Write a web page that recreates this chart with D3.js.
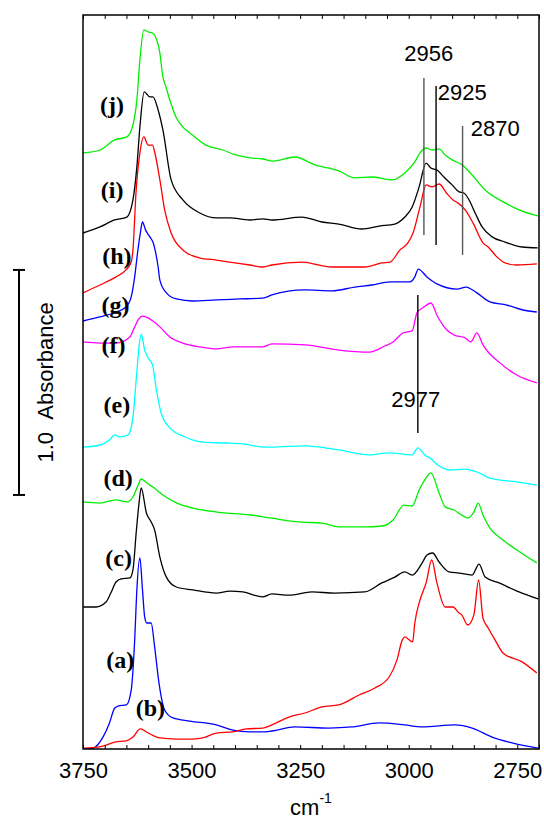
<!DOCTYPE html>
<html>
<head>
<meta charset="utf-8">
<script src="https://cdn.jsdelivr.net/npm/d3@7"></script>
<style>
  body { margin: 0; background: #fff; }
  svg { display: block; }
</style>
</head>
<body>
<svg id="chart" width="544" height="821"></svg>
<script>
// spectra: [wavenumber (cm-1), absorbance as plotted, offsets included]
const specA = [
  [3750, 0.0], [3727, 0.004], [3704, 0.053], [3689, 0.116], [3677, 0.182], [3669, 0.191],
  [3650, 0.196], [3639, 0.262], [3631, 0.484], [3626, 0.707], [3619, 0.849], [3613, 0.707],
  [3608, 0.587], [3603, 0.56], [3593, 0.56], [3585, 0.453], [3575, 0.293], [3562, 0.173],
  [3543, 0.138], [3504, 0.124], [3443, 0.107], [3405, 0.084], [3366, 0.076], [3336, 0.076],
  [3315, 0.08], [3262, 0.098], [3184, 0.093], [3131, 0.098], [3068, 0.116], [3009, 0.107],
  [2969, 0.098], [2893, 0.107], [2854, 0.093], [2808, 0.053], [2762, 0.027], [2702, 0.004]
];
const specB = [
  [3750, 0.004], [3704, 0.013], [3677, 0.031], [3650, 0.036], [3635, 0.053], [3618, 0.089],
  [3600, 0.071], [3573, 0.049], [3535, 0.044], [3497, 0.044], [3474, 0.049], [3443, 0.071],
  [3405, 0.076], [3374, 0.089], [3336, 0.093], [3315, 0.107], [3276, 0.142], [3239, 0.16],
  [3200, 0.187], [3161, 0.196], [3114, 0.24], [3078, 0.271], [3045, 0.32], [3027, 0.396],
  [3015, 0.484], [3009, 0.498], [2991, 0.476], [2986, 0.56], [2974, 0.662], [2960, 0.738],
  [2947, 0.84], [2935, 0.738], [2916, 0.631], [2898, 0.631], [2884, 0.604], [2878, 0.596],
  [2864, 0.551], [2850, 0.596], [2839, 0.751], [2829, 0.582], [2817, 0.538], [2801, 0.484],
  [2783, 0.427], [2739, 0.387], [2705, 0.338]
];
const specC = [
  [3750, 0.631], [3720, 0.631], [3697, 0.653], [3686, 0.693], [3674, 0.742], [3662, 0.756],
  [3642, 0.76], [3635, 0.796], [3627, 0.973], [3621, 1.093], [3616, 1.16], [3604, 1.049],
  [3593, 1.009], [3585, 0.973], [3573, 0.853], [3558, 0.764], [3535, 0.72], [3497, 0.707],
  [3443, 0.693], [3412, 0.702], [3382, 0.698], [3336, 0.676], [3315, 0.689], [3276, 0.684],
  [3223, 0.698], [3170, 0.693], [3101, 0.698], [3062, 0.738], [3032, 0.764], [3009, 0.787],
  [2992, 0.773], [2969, 0.827], [2958, 0.862], [2945, 0.871], [2930, 0.831], [2907, 0.787],
  [2884, 0.782], [2854, 0.773], [2838, 0.822], [2824, 0.764], [2792, 0.738], [2746, 0.698],
  [2702, 0.667]
];
const specD = [
  [3750, 1.098], [3711, 1.093], [3674, 1.107], [3649, 1.098], [3635, 1.12], [3623, 1.173],
  [3616, 1.2], [3603, 1.182], [3589, 1.164], [3566, 1.129], [3534, 1.093], [3497, 1.071],
  [3441, 1.053], [3365, 1.04], [3319, 1.027], [3253, 1.009], [3200, 1.004], [3161, 0.987],
  [3101, 0.987], [3062, 0.991], [3036, 1.018], [3011, 1.084], [2992, 1.08], [2976, 1.151],
  [2963, 1.196], [2949, 1.227], [2930, 1.138], [2916, 1.076], [2896, 1.062], [2875, 1.036],
  [2864, 1.027], [2850, 1.053], [2840, 1.093], [2829, 1.04], [2813, 0.982], [2783, 0.929],
  [2751, 0.884], [2705, 0.827]
];
const specE = [
  [3750, 1.342], [3711, 1.351], [3689, 1.373], [3677, 1.396], [3665, 1.387], [3646, 1.396],
  [3635, 1.476], [3627, 1.653], [3621, 1.787], [3616, 1.844], [3608, 1.773], [3600, 1.738],
  [3590, 1.707], [3581, 1.596], [3570, 1.493], [3550, 1.427], [3520, 1.391], [3474, 1.364],
  [3428, 1.36], [3382, 1.356], [3336, 1.342], [3315, 1.342], [3239, 1.347], [3161, 1.329],
  [3091, 1.307], [3045, 1.316], [2992, 1.307], [2979, 1.338], [2963, 1.307], [2951, 1.293],
  [2933, 1.262], [2905, 1.24], [2870, 1.244], [2843, 1.231], [2813, 1.204], [2751, 1.187],
  [2705, 1.173]
];
const specF = [
  [3750, 1.809], [3711, 1.804], [3674, 1.804], [3642, 1.831], [3631, 1.876], [3623, 1.907],
  [3613, 1.924], [3600, 1.916], [3589, 1.902], [3573, 1.876], [3550, 1.831], [3520, 1.804],
  [3481, 1.787], [3443, 1.778], [3405, 1.787], [3366, 1.787], [3336, 1.787], [3315, 1.8],
  [3239, 1.796], [3161, 1.773], [3091, 1.764], [3055, 1.791], [3036, 1.809], [3013, 1.849],
  [2992, 1.858], [2981, 1.938], [2965, 1.964], [2949, 1.982], [2933, 1.92], [2912, 1.862],
  [2896, 1.84], [2870, 1.827], [2857, 1.809], [2843, 1.849], [2829, 1.796], [2790, 1.716],
  [2751, 1.662], [2705, 1.627]
];
const specG = [
  [3750, 1.902], [3711, 1.92], [3674, 1.942], [3651, 1.964], [3639, 2.009], [3631, 2.098],
  [3624, 2.211], [3618, 2.293], [3613, 2.342], [3606, 2.307], [3596, 2.276], [3589, 2.253],
  [3577, 2.142], [3573, 2.084], [3558, 2.027], [3535, 2.0], [3497, 1.991], [3443, 1.996],
  [3389, 2.0], [3336, 2.004], [3315, 2.018], [3239, 2.04], [3177, 2.036], [3124, 2.053],
  [3085, 2.062], [3043, 2.076], [2997, 2.076], [2986, 2.098], [2978, 2.133], [2958, 2.098],
  [2935, 2.067], [2889, 2.044], [2868, 2.053], [2843, 2.027], [2813, 1.987], [2774, 1.973],
  [2737, 1.951], [2705, 1.942]
];
const specH = [
  [3750, 2.027], [3711, 2.062], [3674, 2.098], [3651, 2.129], [3639, 2.164], [3635, 2.218],
  [3628, 2.471], [3619, 2.649], [3610, 2.72], [3600, 2.684], [3590, 2.684], [3585, 2.653],
  [3573, 2.529], [3562, 2.396], [3547, 2.293], [3520, 2.218], [3481, 2.182], [3443, 2.173],
  [3412, 2.164], [3366, 2.151], [3336, 2.142], [3315, 2.151], [3246, 2.164], [3177, 2.142],
  [3101, 2.142], [3062, 2.16], [3043, 2.164], [3020, 2.218], [3002, 2.249], [2990, 2.293],
  [2974, 2.409], [2960, 2.507], [2947, 2.498], [2930, 2.511], [2913, 2.471], [2898, 2.44],
  [2887, 2.427], [2870, 2.396], [2852, 2.338], [2829, 2.249], [2817, 2.231], [2797, 2.187],
  [2778, 2.16], [2751, 2.151], [2705, 2.156]
];
const specI = [
  [3750, 2.293], [3711, 2.32], [3677, 2.351], [3649, 2.364], [3635, 2.44], [3626, 2.587],
  [3619, 2.764], [3609, 2.92], [3596, 2.898], [3589, 2.898], [3577, 2.84], [3566, 2.751],
  [3547, 2.529], [3520, 2.44], [3481, 2.382], [3443, 2.36], [3412, 2.36], [3366, 2.351],
  [3336, 2.356], [3315, 2.351], [3246, 2.364], [3200, 2.342], [3161, 2.333], [3108, 2.311],
  [3068, 2.324], [3032, 2.333], [3009, 2.364], [2992, 2.409], [2976, 2.498], [2960, 2.604],
  [2949, 2.582], [2935, 2.573], [2919, 2.542], [2900, 2.507], [2884, 2.476], [2873, 2.471],
  [2861, 2.44], [2847, 2.382], [2831, 2.32], [2808, 2.276], [2778, 2.253], [2739, 2.231],
  [2703, 2.227]
];
const specJ = [
  [3750, 2.649], [3711, 2.662], [3677, 2.707], [3649, 2.72], [3635, 2.773], [3626, 2.884],
  [3619, 3.062], [3610, 3.196], [3600, 3.187], [3590, 3.182], [3584, 3.169], [3573, 3.093],
  [3566, 2.987], [3559, 2.942], [3550, 2.884], [3536, 2.809], [3520, 2.764], [3504, 2.738],
  [3467, 2.684], [3428, 2.662], [3398, 2.64], [3366, 2.627], [3336, 2.622], [3315, 2.613],
  [3262, 2.631], [3216, 2.596], [3161, 2.569], [3124, 2.538], [3085, 2.542], [3039, 2.529],
  [3009, 2.56], [2986, 2.609], [2974, 2.649], [2960, 2.671], [2946, 2.662], [2930, 2.667],
  [2916, 2.64], [2900, 2.618], [2877, 2.596], [2854, 2.551], [2824, 2.484], [2778, 2.427],
  [2746, 2.396], [2702, 2.369]
];

const seriesNames = ['(a)', '(b)', '(c)', '(d)', '(e)', '(f)', '(g)', '(h)', '(i)', '(j)'];
const seriesData = [specA, specB, specC, specD, specE, specF, specG, specH, specI, specJ];

// band markers: where the line is drawn, and the number written next to it
const bandLabels = ['2956', '2925', '2870', '2977'];
const bandAt = [2965, 2937, 2876, 2979];

const xTicks = d3.range(2700, 3751, 50);


const colors = ['#0000ff', '#ff0000', '#000000', '#00ee00', '#00ffff',
                '#ff00ff', '#0000ff', '#ff0000', '#000000', '#00ee00'];

const sansFont = "Arial, 'Liberation Sans', Helvetica, sans-serif";
const serifFont = "'Times New Roman', 'Liberation Serif', Times, serif";

let svg = d3.select('#chart');
let width = 544;
let height = 821;
let margin = { top: 15, right: 5, bottom: 72, left: 83 };

let x = d3.scaleLinear()
  .domain([3750, 2700])
  .range([margin.left, width - margin.right]);

let y = d3.scaleLinear()
  .domain([0, 3.262])
  .range([height - margin.bottom, margin.top]);

svg.append('defs').append('clipPath')
  .attr('id', 'plotclip')
  .append('rect')
  .attr('x', margin.left)
  .attr('y', margin.top)
  .attr('width', width - margin.left - margin.right)
  .attr('height', height - margin.top - margin.bottom);

let line = d3.line()
  .x((d) => x(d[0]))
  .y((d) => y(d[1]))
  .curve(d3.curveMonotoneX);

let plot = svg.append('g').attr('clip-path', 'url(#plotclip)');

seriesData.forEach((data, i) => {
  plot.append('path')
    .datum(data)
    .attr('fill', 'none')
    .attr('stroke', colors[i])
    .attr('stroke-width', 1.3)
    .attr('stroke-linejoin', 'round')
    .attr('d', line);
});

// frame
svg.append('rect')
  .attr('x', margin.left)
  .attr('y', margin.top)
  .attr('width', width - margin.left - margin.right)
  .attr('height', height - margin.top - margin.bottom)
  .attr('fill', 'none')
  .attr('stroke', '#000')
  .attr('stroke-width', 1.5);

// ticks point inward, labels every 250
let bottomAxis = d3.axisBottom(x)
  .tickValues(xTicks)
  .tickSize(-4)
  .tickPadding(13)
  .tickFormat((d) => d % 250 === 0 ? d : '');

let gx = svg.append('g')
  .attr('transform', `translate(0,${height - margin.bottom})`)
  .call(bottomAxis);
gx.select('.domain').remove();
gx.selectAll('line').attr('stroke', '#000').attr('stroke-width', 1);
gx.selectAll('text')
  .attr('fill', '#000')
  .style('font-family', sansFont)
  .style('font-size', '22px');

let topAxis = d3.axisTop(x)
  .tickValues(xTicks)
  .tickSize(-4)
  .tickFormat('');

let gt = svg.append('g')
  .attr('transform', `translate(0,${margin.top})`)
  .call(topAxis);
gt.select('.domain').remove();
gt.selectAll('line').attr('stroke', '#000').attr('stroke-width', 1);

// axis title
let xt = svg.append('text')
  .attr('x', (margin.left + width - margin.right) / 2)
  .attr('y', 815)
  .attr('text-anchor', 'middle')
  .style('font-family', sansFont)
  .style('font-size', '22px');
xt.append('tspan').text('cm');
xt.append('tspan')
  .attr('dy', -12)
  .style('font-size', '14px')
  .text('-1');

// trace labels, anchored in data units
const labelAt = [[3664, 0.36], [3595, 0.147], [3668, 0.813], [3669, 1.169], [3672, 1.493],
                 [3680, 1.76], [3675, 1.938], [3672, 2.156], [3683, 2.449], [3683, 2.827]];

svg.append('g').selectAll('text')
  .data(seriesNames)
  .enter().append('text')
  .attr('x', (d, i) => x(labelAt[i][0]))
  .attr('y', (d, i) => y(labelAt[i][1]))
  .attr('text-anchor', 'middle')
  .style('font-family', serifFont)
  .style('font-weight', 'bold')
  .style('font-size', '24px')
  .text((d) => d);

// band marker lines + numbers
const bandSpan = [[2.284, 2.982], [2.24, 2.947], [2.196, 2.769], [1.404, 2.018]];
const bandText = [[2954, 3.058, 'middle'], [2933, 2.884, 'start'], [2857, 2.724, 'start'], [2984, 1.52, 'middle']];
const bandStroke = ['#555', '#000', '#555', '#000'];

bandLabels.forEach((lab, i) => {
  svg.append('line')
    .attr('x1', x(bandAt[i]))
    .attr('x2', x(bandAt[i]))
    .attr('y1', y(bandSpan[i][0]))
    .attr('y2', y(bandSpan[i][1]))
    .attr('stroke', bandStroke[i])
    .attr('stroke-width', 1.4);

  svg.append('text')
    .attr('x', x(bandText[i][0]))
    .attr('y', y(bandText[i][1]))
    .attr('text-anchor', bandText[i][2])
    .style('font-family', sansFont)
    .style('font-size', '22px')
    .text(lab);
});

// 1.0 absorbance scale bar on the left
let barX = 19;
let barLo = 1.129;
let bar = svg.append('g').attr('stroke', '#000').attr('stroke-width', 2);
bar.append('line')
  .attr('x1', barX).attr('x2', barX)
  .attr('y1', y(barLo)).attr('y2', y(barLo + 1.0));
bar.append('line')
  .attr('x1', barX - 6).attr('x2', barX + 6)
  .attr('y1', y(barLo)).attr('y2', y(barLo));
bar.append('line')
  .attr('x1', barX - 6).attr('x2', barX + 6)
  .attr('y1', y(barLo + 1.0)).attr('y2', y(barLo + 1.0));

svg.append('text')
  .attr('transform', `translate(53,${y(barLo + 0.5)}) rotate(-90)`)
  .attr('text-anchor', 'middle')
  .style('font-family', sansFont)
  .style('font-size', '22px')
  .text('1.0\u00a0\u00a0Absorbance');
</script>
</body>
</html>
